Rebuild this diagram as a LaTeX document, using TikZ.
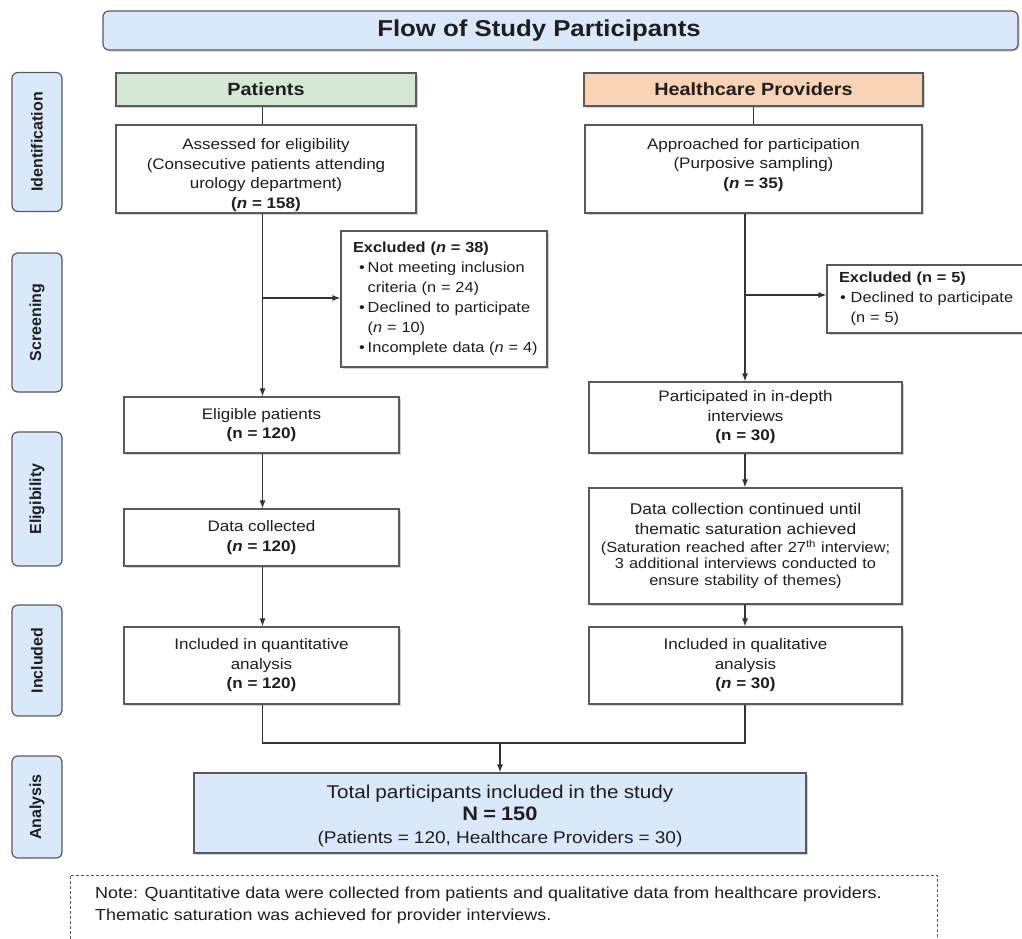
\documentclass[tikz,border=0pt]{standalone}
\usepackage{fontspec}
\setmainfont{Liberation Sans}[FakeStretch=1.12]
\newfontfamily\sidefont{Liberation Sans}
\usetikzlibrary{arrows.meta,shadows}
\definecolor{lblue}{HTML}{DAE8FC}
\definecolor{lgreen}{HTML}{D5E8D4}
\definecolor{lorange}{HTML}{F9D3B5}
\definecolor{bord}{HTML}{5A5A5A}
\definecolor{lineclr}{HTML}{333333}
\definecolor{txt}{HTML}{1E1E1E}
\begin{document}
\begin{tikzpicture}[x=1pt,y=-1pt,
  every node/.style={text=txt},
  shadowed/.style={drop shadow={shadow xshift=1.5pt,shadow yshift=-1.5pt,opacity=0.18,fill=black}},
  box/.style={draw=bord,line width=1.2pt,fill=white,inner sep=0pt,align=center,
    font=\fontsize{15.2}{19.5}\selectfont,shadowed},
  sidebox/.style={draw=bord,line width=1.2pt,fill=lblue,rounded corners=6pt,inner sep=0pt,
    rotate=90,font=\sidefont\bfseries\fontsize{16}{18}\selectfont,minimum height=50pt},
  hdr/.style={box,font=\bfseries\fontsize{17.7}{20}\selectfont},
  exbox/.style={box,align=left,inner xsep=8pt,font=\fontsize{14.6}{20}\selectfont},
  conn/.style={draw=lineclr,line width=1.2pt},
  arr/.style={conn,-{Latex[length=8pt,width=6pt]}},
  notebox/.style={draw=bord,line width=1pt,dashed,dash pattern=on 3pt off 2pt,inner sep=0pt},
]
\useasboundingbox[fill=white] (0,0) rectangle (1022,938);
\clip (0,0) rectangle (1022,938);

% title
\node[box,fill=lblue,rounded corners=6pt,minimum width=915pt,minimum height=39pt] (title) at (560.5,30.5) {};
\node[font=\bfseries\fontsize{23}{26}\selectfont] (titlet) at (539,30.5) {Flow of Study Participants};

% side labels
\node[sidebox,minimum width=139pt] (sid) at (37,142) {Identification};
\node[sidebox,minimum width=139pt] (ssc) at (37,322.5) {Screening};
\node[sidebox,minimum width=134pt] (sel) at (37,499) {Eligibility};
\node[sidebox,minimum width=111pt] (sin) at (37,660.5) {Included};
\node[sidebox,minimum width=102pt] (san) at (37,807) {Analysis};

% headers
\node[hdr,fill=lgreen,minimum width=300pt,minimum height=33pt] (ph) at (266,89.5) {Patients};
\node[hdr,fill=lorange,minimum width=339pt,minimum height=33pt] (hh) at (753.5,89.5) {Healthcare Providers};

% patients column
\node[box,minimum width=300pt,minimum height=88pt] (assess) at (266,169)
  {\rule{0pt}{23pt}Assessed for eligibility\\(Consecutive patients attending\\urology department)\\\textbf{(\textit{n} = 158)}};
\node[exbox,text width=190pt,minimum height=136pt] (ex1) at (444,299)
  {\hspace*{4pt}\textbf{Excluded (\textit{n} = 38)}\\
   \hspace*{10pt}\textbullet\hspace{3pt}Not meeting inclusion\\
   \hspace*{10pt}\hphantom{\textbullet}\hspace{3pt}criteria (n = 24)\\
   \hspace*{10pt}\textbullet\hspace{3pt}Declined to participate\\
   \hspace*{10pt}\hphantom{\textbullet}\hspace{3pt}(\textit{n} = 10)\\
   \hspace*{10pt}\textbullet\hspace{3pt}\mbox{Incomplete data (\textit{n} = 4)}};
\node[box,minimum width=275pt,minimum height=56pt] (elig) at (261.5,425)
  {Eligible patients\\\textbf{(n = 120)}};
\node[box,minimum width=275pt,minimum height=57pt] (datac) at (261.5,537.5)
  {Data collected\\\textbf{(\textit{n} = 120)}};
\node[box,minimum width=275pt,minimum height=77pt] (quant) at (261.5,665.5)
  {Included in quantitative\\analysis\\\textbf{(n = 120)}};

% providers column
\node[box,minimum width=337pt,minimum height=88pt] (appr) at (753.5,169)
  {Approached for participation\\(Purposive sampling)\\\textbf{(\textit{n} = 35)}\\[-8pt]\mbox{}};
\node[exbox,text width=194pt,minimum height=68pt] (ex2) at (932,299)
  {\hspace*{4pt}\textbf{Excluded (n = 5)}\\
   \hspace*{5pt}\textbullet\hspace{5pt}Declined to participate\\
   \hspace*{5pt}\hphantom{\textbullet}\hspace{5pt}(n = 5)};
\node[box,minimum width=313pt,minimum height=71pt] (part) at (745.5,417.5)
  {Participated in in-depth\\interviews\\\textbf{(n = 30)}};
\node[box,text width=305pt,minimum width=313pt,minimum height=116pt] (dcont) at (745.5,546)
  {{\fontsize{15.5}{20}\selectfont Data collection continued until\\thematic saturation achieved\par}
   \vspace{1pt}
   {\fontsize{14.6}{16.5}\selectfont (Saturation reached after 27\textsuperscript{th} interview;\\3 additional interviews conducted to\\ensure stability of themes)\par}};
\node[box,minimum width=313pt,minimum height=77pt] (qual) at (745.5,665.5)
  {Included in qualitative\\analysis\\\textbf{(\textit{n} = 30)}};

% total
\node[box,fill=lblue,text width=600pt,minimum width=612pt,minimum height=80pt] (total) at (500,813)
  {{\fontsize{18.5}{22}\selectfont\rule{0pt}{20pt}Total participants included in the study\par}
   {\bfseries\fontsize{19.5}{22}\selectfont N = 150\par}
   {\fontsize{17}{23}\selectfont (Patients = 120, Healthcare Providers = 30)\par}};

% note
\node[notebox,minimum width=867pt,minimum height=70pt] (note) at (503.5,910) {};
\node[anchor=west,align=left,inner sep=0pt,font=\fontsize{16}{22}\selectfont] (notet) at (95,905)
  {Note: Quantitative data were collected from patients and qualitative data from healthcare providers.\\
   Thematic saturation was achieved for provider interviews.};

% connectors
\coordinate (L) at (262.5,0);
\coordinate (R) at (745,0);
\draw[conn] (ph.south -| L) -- (assess.north -| L);
\draw[conn] (hh.south) -- (appr.north);
\draw[arr] (assess.south -| L) -- (elig.north -| L);
\coordinate (b1) at (262.5,298);
\draw[arr] (b1) -- (b1 -| ex1.west);
\draw[arr] (appr.south -| R) -- (part.north -| R);
\coordinate (b2) at (745,295);
\draw[arr] (b2) -- (b2 -| ex2.west);
\draw[arr] (elig.south -| L) -- (datac.north -| L);
\draw[arr] (datac.south -| L) -- (quant.north -| L);
\draw[arr] (part.south -| R) -- (dcont.north -| R);
\draw[arr] (dcont.south -| R) -- (qual.north -| R);
\coordinate (m) at (500,743);
\draw[conn] (quant.south -| L) |- (m) -| (qual.south -| R);
\draw[arr] (m) -- (total.north);
\end{tikzpicture}
\end{document}
